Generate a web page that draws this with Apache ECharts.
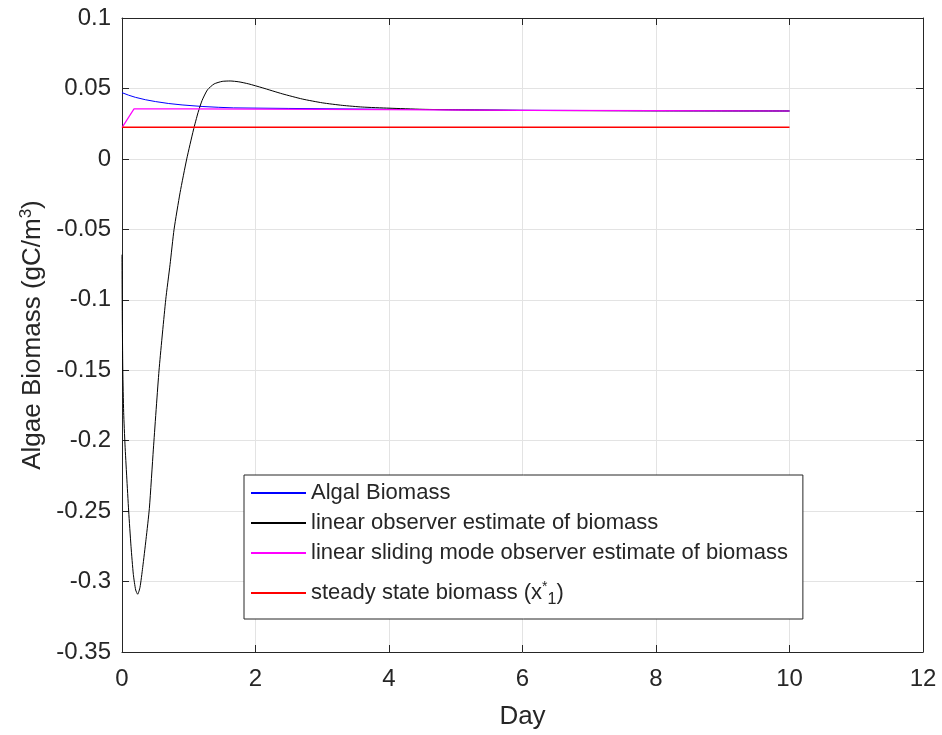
<!DOCTYPE html>
<html><head><meta charset="utf-8">
<script src="https://cdn.jsdelivr.net/npm/echarts@6/dist/echarts.min.js"></script>
<style>html,body{margin:0;padding:0;background:#fff}#c{width:942px;height:735px}</style>
</head><body><div id="c"></div>
<script>
// x tick labels / y tick labels
const xTicks = [0, 2, 4, 6, 8, 10, 12];
const yTicks = [-0.35, -0.3, -0.25, -0.2, -0.15, -0.1, -0.05, 0, 0.05, 0.1];

const seriesNames = [
  'Algal Biomass',
  'linear observer estimate of biomass',
  'linear sliding mode observer estimate of biomass',
  'steady state biomass (x*1)'
];

// Algal biomass
const algalDays   = [0, 0.1, 0.2, 0.35, 0.5, 0.7, 0.9, 1.2, 1.45, 1.67, 2.5, 4, 6, 8, 10];
const algalValues = [0.047, 0.0452, 0.0437, 0.042, 0.0407, 0.0393, 0.0383, 0.0372, 0.0366, 0.0362, 0.0358, 0.0352, 0.0345, 0.0342, 0.034];

// Linear observer
const linDays   = [0, 0.004, 0.012, 0.025, 0.045, 0.07, 0.1, 0.135, 0.17, 0.205, 0.235, 0.27, 0.31, 0.36, 0.41, 0.47, 0.555, 0.655, 0.72, 0.78, 0.87, 0.97, 1.07, 1.14, 1.2, 1.28, 1.38, 1.5, 1.62, 1.75, 1.9, 2.1, 2.4, 2.7, 3.0, 3.3, 3.6, 4.0, 4.5, 5.0, 6, 8, 10];
const linValues = [-0.068, -0.11, -0.15, -0.18, -0.203, -0.225, -0.25, -0.275, -0.295, -0.306, -0.309, -0.304, -0.29, -0.27, -0.248, -0.206, -0.15, -0.1, -0.075, -0.05, -0.024, 0, 0.0205, 0.033, 0.0415, 0.049, 0.0532, 0.055, 0.0553, 0.0547, 0.0532, 0.0505, 0.0462, 0.0425, 0.0398, 0.038, 0.0368, 0.036, 0.0352, 0.0348, 0.0344, 0.0341, 0.034];

// Linear sliding mode observer
const smoDays   = [0, 0.18, 1, 2, 4, 6, 8, 10];
const smoValues = [0.0222, 0.0355, 0.0355, 0.0353, 0.035, 0.0345, 0.0342, 0.034];

// Steady state
const ssDays   = [0, 10];
const ssValues = [0.0225, 0.0225];

const pairs = (xs, ys) => xs.map((x, i) => [x, ys[i]]);

const axisColor = '#262626';
const font = 'Liberation Sans, Arial, Helvetica, sans-serif';

const chart = echarts.init(document.getElementById('c'));
chart.setOption({
  animation: false,
  backgroundColor: '#fff',
  textStyle: { fontFamily: font },
  grid: { left: 122, right: 19, top: 18, bottom: 83, containLabel: false },
  legend: {
    orient: 'vertical',
    left: 244, top: 475,
    itemWidth: 55, itemHeight: 2,
    itemGap: 8,
    icon: 'rect',
    backgroundColor: '#fff',
    borderColor: axisColor, borderWidth: 1,
    padding: [7, 15, 5, 7],
    textStyle: { fontSize: 22, color: axisColor, fontFamily: font,
      rich: {
        sp: { fontSize: 22, lineHeight: 42, height: 42, verticalAlign: 'middle', color: 'rgba(0,0,0,0)' },
        sup: { fontSize: 14, verticalAlign: 'middle', padding: [0, 0, 12, 0], color: axisColor, fontFamily: font },
        sub: { fontSize: 16, verticalAlign: 'middle', padding: [14, 0, 0, 0], color: axisColor, fontFamily: font }
      }
    },
    formatter: function (name) {
      if (name === seriesNames[3]) return '{sp|\u200b}steady state biomass (x{sup|*}{sub|1})';
      return name;
    },
    data: seriesNames
  },
  xAxis: [{
    type: 'value', min: xTicks[0], max: xTicks[xTicks.length - 1], interval: 2,
    name: 'Day', nameLocation: 'middle', nameGap: 52,
    nameTextStyle: { fontSize: 26, color: axisColor, fontFamily: font },
    axisLine: { show: true, onZero: false, lineStyle: { color: axisColor, width: 1 } },
    axisTick: { show: true, inside: true, length: 7, lineStyle: { color: axisColor } },
    axisLabel: { fontSize: 24, color: axisColor, margin: 15, fontFamily: font },
    splitLine: { show: true, lineStyle: { color: '#e3e3e3', width: 1 } }
  }, {
    type: 'value', position: 'top', min: xTicks[0], max: xTicks[xTicks.length - 1], interval: 2,
    axisLine: { show: true, onZero: false, lineStyle: { color: axisColor, width: 1 } },
    axisTick: { show: true, inside: true, length: 7, lineStyle: { color: axisColor } },
    axisLabel: { show: false }, splitLine: { show: false }
  }],
  yAxis: [{
    type: 'value', min: yTicks[0], max: yTicks[yTicks.length - 1], interval: 0.05,
    name: 'Algae Biomass (gC/m{sup|3})', nameLocation: 'middle', nameGap: 72, nameRotate: 90,
    nameTextStyle: { fontSize: 26, color: axisColor, fontFamily: font,
      rich: { sup: { fontSize: 17, verticalAlign: 'top', padding: [0, 0, 12, 0], color: axisColor, fontFamily: font } } },
    axisLine: { show: true, onZero: false, lineStyle: { color: axisColor, width: 1 } },
    axisTick: { show: true, inside: true, length: 7, lineStyle: { color: axisColor } },
    axisLabel: { fontSize: 24, color: axisColor, margin: 11, fontFamily: font,
      formatter: v => String(parseFloat(v.toFixed(2))) },
    splitLine: { show: true, lineStyle: { color: '#e3e3e3', width: 1 } }
  }, {
    type: 'value', position: 'right', min: yTicks[0], max: yTicks[yTicks.length - 1], interval: 0.05,
    axisLine: { show: true, onZero: false, lineStyle: { color: axisColor, width: 1 } },
    axisTick: { show: true, inside: true, length: 7, lineStyle: { color: axisColor } },
    axisLabel: { show: false }, splitLine: { show: false }
  }],
  series: [
    { name: seriesNames[0], type: 'line', data: pairs(algalDays, algalValues), showSymbol: false,
      lineStyle: { color: '#0000ff', width: 1 }, itemStyle: { color: '#0000ff' }, z: 2 },
    { name: seriesNames[1], type: 'line', data: pairs(linDays, linValues), showSymbol: false, smooth: 0.2,
      lineStyle: { color: '#000000', width: 1 }, itemStyle: { color: '#000000' }, z: 3 },
    { name: seriesNames[2], type: 'line', data: pairs(smoDays, smoValues), showSymbol: false,
      lineStyle: { color: '#ff00ff', width: 1.2 }, itemStyle: { color: '#ff00ff' }, z: 4 },
    { name: seriesNames[3], type: 'line', data: pairs(ssDays, ssValues), showSymbol: false,
      lineStyle: { color: '#ff0000', width: 1.5 }, itemStyle: { color: '#ff0000' }, z: 5 }
  ]
});
</script></body></html>
